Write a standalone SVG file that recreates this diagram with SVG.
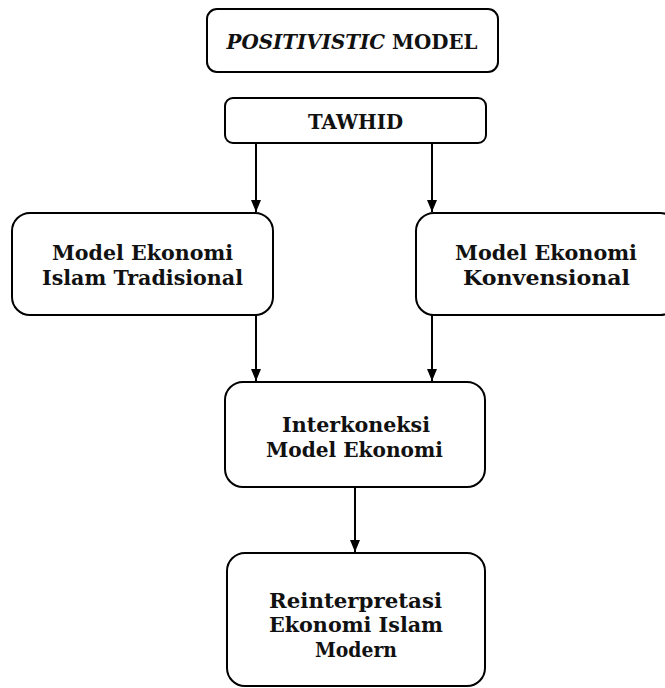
<svg xmlns="http://www.w3.org/2000/svg" width="665" height="688" viewBox="0 0 665 688">
<style>
.box{fill:#fff;stroke:#000;stroke-width:2}
.t{font-family:"DejaVu Serif","Liberation Serif",serif;font-weight:bold;font-size:20px;fill:#111;text-anchor:middle}
.c{stroke:#000;stroke-width:2;fill:none;marker-end:url(#ah)}
</style>
<defs>
<marker id="ah" markerWidth="12" markerHeight="10" refX="12" refY="5" orient="auto" markerUnits="userSpaceOnUse" viewBox="0 0 12 10">
<path d="M0,0 L12,5 L0,10 Z" fill="#000"/>
</marker>
</defs>
<rect width="665" height="688" fill="#fff"/>
<g id="connectors">
<line class="c" x1="256" y1="143" x2="256" y2="212"/>
<line class="c" x1="432" y1="143" x2="432" y2="212"/>
<line class="c" x1="256" y1="315" x2="256" y2="381"/>
<line class="c" x1="432" y1="315" x2="432" y2="381"/>
<line class="c" x1="355" y1="487" x2="355" y2="552"/>
</g>
<g id="positivistic">
<rect class="box" x="207" y="9" width="291" height="63" rx="10"/>
<text class="t" x="352" y="49" textLength="251" lengthAdjust="spacingAndGlyphs"><tspan font-style="italic">POSITIVISTIC</tspan> MODEL</text>
</g>
<g id="tawhid">
<rect class="box" x="225" y="98" width="261" height="45" rx="8"/>
<text class="t" x="355.5" y="129" textLength="95" lengthAdjust="spacingAndGlyphs">TAWHID</text>
</g>
<g id="tradisional">
<rect class="box" x="12" y="213" width="261" height="102" rx="18"/>
<text class="t" x="142.5" y="260" textLength="181" lengthAdjust="spacingAndGlyphs">Model Ekonomi</text>
<text class="t" x="142.5" y="285" textLength="201" lengthAdjust="spacingAndGlyphs">Islam Tradisional</text>
</g>
<g id="konvensional">
<rect class="box" x="416" y="213" width="262" height="102" rx="18"/>
<text class="t" x="546" y="260" textLength="182" lengthAdjust="spacingAndGlyphs">Model Ekonomi</text>
<text class="t" x="546.5" y="285" textLength="167" lengthAdjust="spacingAndGlyphs">Konvensional</text>
</g>
<g id="interkoneksi">
<rect class="box" x="225" y="382" width="260" height="105" rx="18"/>
<text class="t" x="356" y="432" textLength="148" lengthAdjust="spacingAndGlyphs">Interkoneksi</text>
<text class="t" x="354.5" y="457" textLength="177" lengthAdjust="spacingAndGlyphs">Model Ekonomi</text>
</g>
<g id="reinterpretasi">
<rect class="box" x="227" y="553" width="258" height="133" rx="18"/>
<text class="t" x="355.5" y="608" textLength="173" lengthAdjust="spacingAndGlyphs">Reinterpretasi</text>
<text class="t" x="356" y="632" textLength="174" lengthAdjust="spacingAndGlyphs">Ekonomi Islam</text>
<text class="t" x="356" y="657" textLength="82" lengthAdjust="spacingAndGlyphs">Modern</text>
</g>
</svg>
